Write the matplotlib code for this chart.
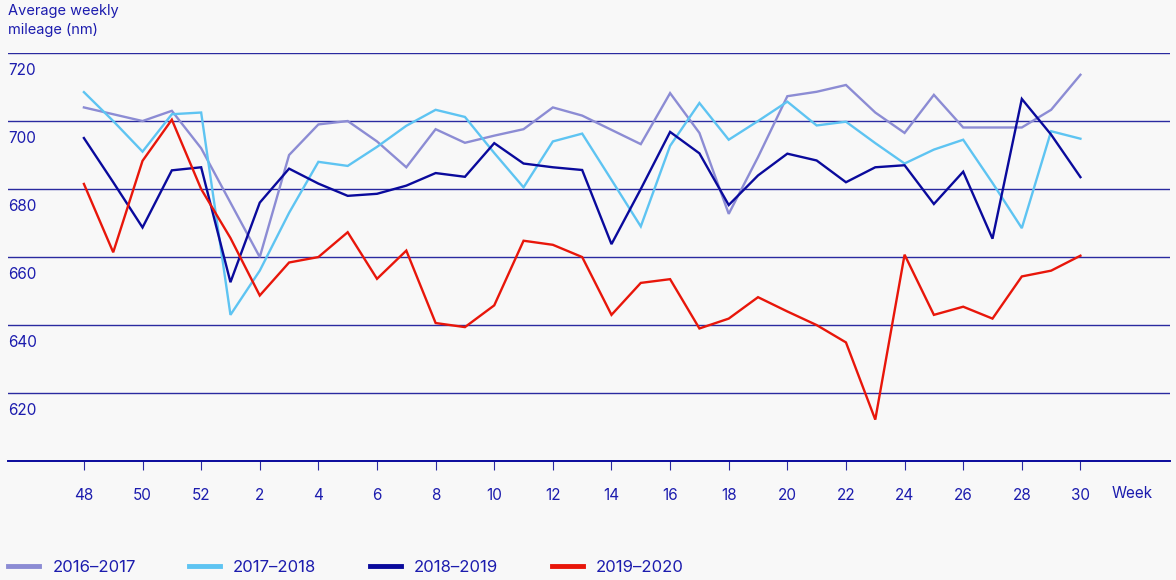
import matplotlib.pyplot as plt
from matplotlib.lines import Line2D

plt.rcParams['font.family'] = ['Inter', 'DejaVu Sans']

weeks = [48, 49, 50, 51, 52] + list(range(1, 31))

s2016 = [704, 702, 700, 703, 692, 676, 660, 690, 699, 700,
         694, 686.4, 697.6, 693.6, 695.7, 697.6, 704, 701.6, 697.4, 693.2,
         708.2, 696.5, 672.7, 689.4, 707.3, 708.6, 710.6, 702.5, 696.5, 707.7,
         698.1, 698.1, 698.1, 703.3, 713.6]
s2017 = [708.5, 700, 691, 702, 702.5, 643, 656, 673, 688, 686.8,
         692.4, 698.6, 703.3, 701.2, 690.6, 680.5, 694, 696.3, 682.7, 669,
         692.7, 705.3, 694.5, 700, 705.7, 698.7, 699.8, 693.5, 687.5, 691.6,
         694.5, 681.8, 668.5, 697, 694.8]
s2018 = [695, 682, 668.7, 685.5, 686.4, 652.6, 676, 686, 681.6, 678,
         678.6, 681, 684.7, 683.6, 693.5, 687.5, 686.4, 685.6, 663.8, 680,
         696.8, 690.5, 675.3, 684, 690.4, 688.4, 682, 686.4, 687, 675.6,
         685.1, 665.4, 706.5, 696, 683.5]
s2019 = [681.5, 661.4, 688.3, 700.4, 680, 665.6, 648.7, 658.4, 660, 667.3,
         653.6, 661.9, 640.6, 639.4, 645.8, 664.8, 663.6, 660, 643, 652.4,
         653.5, 639, 641.9, 648.2, 644, 640, 634.9, 612.2, 660.7, 643,
         645.4, 641.9, 654.3, 656, 660.4]

series = [('2016–2017', s2016, '#8c8cd4'),
          ('2017–2018', s2017, '#5ec4f2'),
          ('2018–2019', s2018, '#0a0a9c'),
          ('2019–2020', s2019, '#e8160a')]

yticks = [720, 700, 680, 660, 640, 620]
txt = '#1c1cae'
grid = '#2a2aa0'
bg = '#f8f8f8'

fig = plt.figure(figsize=(11.76, 5.8), dpi=100, facecolor=bg)
ax = fig.add_axes([0.0068, 0.205, 0.9882, 0.7036], facecolor=bg)

x = list(range(len(weeks)))
for name, vals, col in series:
    ax.plot(x, vals, color=col, lw=1.7, label=name, solid_joinstyle='miter')

ax.set_xlim(-2.59, 37.06)
ax.set_ylim(600, 720)

for v in yticks:
    ax.axhline(v, color=grid, lw=1.0, zorder=0)
    ax.annotate(str(v), xy=(0, v), xycoords=ax.get_yaxis_transform(),
                xytext=(0, -7), textcoords='offset points',
                va='top', ha='left', fontsize=11, color=txt)

for s in ['top', 'left', 'right']:
    ax.spines[s].set_visible(False)
ax.spines['bottom'].set_color('#0a0a9c')
ax.spines['bottom'].set_linewidth(1.4)
ax.set_yticks([])

tick_pos = [i for i in x if i % 2 == 0]
ax.set_xticks(tick_pos)
ax.set_xticklabels([str(weeks[i]) for i in tick_pos])
ax.tick_params(axis='x', length=6.5, width=0.8, color=grid, pad=13,
               labelsize=11, labelcolor=txt)

fig.text(1132 / 1176, 1 - 494 / 580, 'Week', fontsize=11, color=txt,
         ha='center', va='center')
fig.text(8 / 1176, 1 - 4 / 580, 'Average weekly\nmileage (nm)', fontsize=10.5,
         color=txt, ha='left', va='top', linespacing=1.45)

handles = [Line2D([], [], color=c, lw=3.5) for _, _, c in series]
leg = fig.legend(handles, [n for n, _, _ in series], loc='center left',
                 bbox_to_anchor=(8 / 1176, 1 - 567 / 580), ncol=4, frameon=False,
                 fontsize=12, handlelength=1.875, handletextpad=0.78,
                 columnspacing=3.2, borderaxespad=0, borderpad=0)
for t in leg.get_texts():
    t.set_color(txt)

fig.savefig('out.png', dpi=100, facecolor=bg)
